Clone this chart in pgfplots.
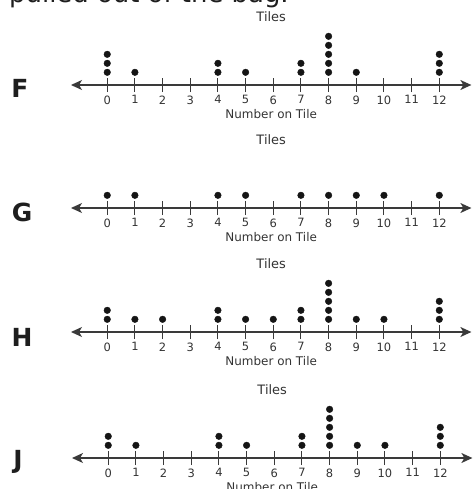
\documentclass[border=0pt]{standalone}
\usepackage{pgfplots}
\pgfplotsset{compat=1.18}
\usepackage{fontspec}
\setmainfont{DejaVu Sans}
\usetikzlibrary{arrows.meta}

\definecolor{axisgray}{HTML}{3A3A3A}
\definecolor{dotblack}{HTML}{151515}
\definecolor{labelgray}{HTML}{333333}
\definecolor{lettergray}{HTML}{1E1E1E}

% one dot plot of tile numbers: a number line with a stack of dots per value
\pgfplotsset{
  tileplot/.style={
    x=27.67bp, y=9bp,
    xmin=-1.31, xmax=13.16, ymin=-0.41, ymax=5.5,
    anchor=south west,
    axis x line=bottom, axis y line=none,
    clip=false,
    xtick={0,...,12},
    major tick length=14bp, tick align=center,
    tick style={draw=axisgray, line width=1bp},
    x axis line style={draw=axisgray, line width=1.3bp, <->,
      >={Stealth[length=11bp,width=10bp,inset=3bp]}},
    /pgf/number format/assume math mode=true,
    xticklabel style={font=\fontsize{11.5}{13}\selectfont, text=labelgray},
    title={Tiles},
    title style={at={(axis description cs:0.5,0)}, anchor=center,
      yshift=62bp, font=\fontsize{13}{15}\selectfont, text=labelgray},
    xlabel={Number on Tile},
    xlabel style={at={(axis description cs:0.5,0)}, anchor=center,
      yshift=-29bp, font=\fontsize{12}{14}\selectfont, text=labelgray},
  },
  dots/.style={only marks, mark=*, mark size=3.3bp, color=dotblack},
}

\begin{document}
\begin{tikzpicture}
\useasboundingbox (0,0) rectangle (474bp,-489bp);
\clip (0,0) rectangle (474bp,-489bp);

\node[anchor=base west, inner sep=0pt, font=\fontsize{26}{30}\selectfont,
  text=lettergray] at (9bp,-2bp) {pulled out of the bag.};

% F
\begin{axis}[tileplot, at={(71bp,-85bp)}]
\addplot[dots] coordinates {
  (0,1) (0,2) (0,3) (1,1) (4,1) (4,2) (5,1) (7,1) (7,2)
  (8,1) (8,2) (8,3) (8,4) (8,5) (9,1) (12,1) (12,2) (12,3)};
\end{axis}

% G
\begin{axis}[tileplot, at={(71bp,-208bp)}]
\addplot[dots] coordinates {
  (0,1) (1,1) (4,1) (5,1) (7,1) (8,1) (9,1) (10,1) (12,1)};
\end{axis}

% H
\begin{axis}[tileplot, at={(71bp,-332bp)}]
\addplot[dots] coordinates {
  (0,1) (0,2) (1,1) (2,1) (4,1) (4,2) (5,1) (6,1) (7,1) (7,2)
  (8,1) (8,2) (8,3) (8,4) (8,5) (9,1) (10,1) (12,1) (12,2) (12,3)};
\end{axis}

% J
\begin{axis}[tileplot, at={(72bp,-458bp)}]
\addplot[dots] coordinates {
  (0,1) (0,2) (1,1) (4,1) (4,2) (5,1) (7,1) (7,2)
  (8,1) (8,2) (8,3) (8,4) (8,5) (9,1) (10,1) (12,1) (12,2) (12,3)};
\end{axis}

\begin{scope}[every node/.style={font=\fontsize{25}{30}\selectfont\bfseries,
    text=lettergray, inner sep=0pt}]
  \node at (20bp,-88bp) {F};
  \node at (22bp,-212bp) {G};
  \node at (22bp,-337bp) {H};
  \node at (18bp,-462bp) {J};
\end{scope}
\end{tikzpicture}
\end{document}
